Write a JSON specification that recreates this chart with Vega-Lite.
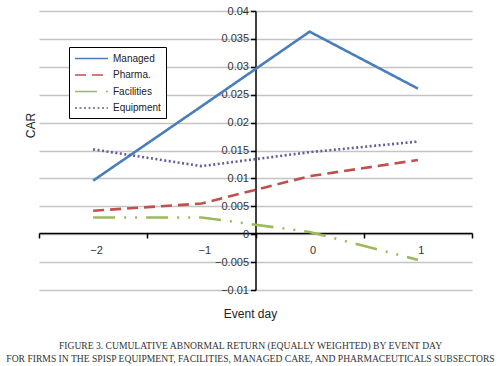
{
  "$schema": "https://vega.github.io/schema/vega-lite/v6.json",
  "autosize": {"type": "none"},
  "width": 433,
  "height": 279,
  "padding": {"left": 39, "top": 11, "right": 28, "bottom": 76},
  "background": "white",
  "title": {
    "text": ["FIGURE 3. CUMULATIVE ABNORMAL RETURN (EQUALLY WEIGHTED) BY EVENT DAY", "FOR FIRMS IN THE SPISP EQUIPMENT, FACILITIES, MANAGED CARE, AND PHARMACEUTICALS SUBSECTORS"],
    "orient": "bottom",
    "anchor": "middle",
    "font": "Liberation Serif",
    "fontSize": 9.6,
    "fontWeight": "normal",
    "color": "#333333",
    "lineHeight": 13,
    "offset": 22,
    "dx": -5
  },
  "data": {
    "values": [
      {"day": -2, "series": "Managed", "car": 0.0096},
      {"day": -1, "series": "Managed", "car": 0.0229},
      {"day": 0, "series": "Managed", "car": 0.0363},
      {"day": 1, "series": "Managed", "car": 0.0261},
      {"day": -2, "series": "Pharma.", "car": 0.0042},
      {"day": -1, "series": "Pharma.", "car": 0.0055},
      {"day": 0, "series": "Pharma.", "car": 0.0104},
      {"day": 1, "series": "Pharma.", "car": 0.0133},
      {"day": -2, "series": "Facilities", "car": 0.003},
      {"day": -1, "series": "Facilities", "car": 0.003},
      {"day": 0, "series": "Facilities", "car": 0.0004},
      {"day": 1, "series": "Facilities", "car": -0.0046},
      {"day": -2, "series": "Equipment", "car": 0.0152},
      {"day": -1, "series": "Equipment", "car": 0.0122},
      {"day": 0, "series": "Equipment", "car": 0.0147},
      {"day": 1, "series": "Equipment", "car": 0.0166}
    ]
  },
  "mark": {"type": "line", "strokeWidth": 2.6},
  "encoding": {
    "x": {
      "field": "day",
      "type": "quantitative",
      "scale": {"domain": [-2.5, 1.5], "nice": false, "zero": false},
      "axis": {
        "orient": "bottom",
        "offset": -57,
        "values": [-2.5, -1.5, -0.5, 0.5, 1.5],
        "labelExpr": "datum.value < 1 ? format(datum.value + 0.5, 'd') : ''",
        "labelOffset": 57,
        "labelFont": "Liberation Sans",
        "labelFontSize": 11,
        "labelColor": "#333333",
        "labelPadding": 6,
        "labelFlush": false,
        "labelOverlap": false,
        "domainColor": "#000000",
        "domainWidth": 1.5,
        "tickColor": "#000000",
        "tickWidth": 1.5,
        "tickSize": 5,
        "grid": false,
        "title": "Event day",
        "titleFont": "Liberation Sans",
        "titleFontSize": 12,
        "titleFontWeight": "normal",
        "titleColor": "#222222",
        "titleBaseline": "middle",
        "titleY": 80,
        "titleX": 211
      }
    },
    "y": {
      "field": "car",
      "type": "quantitative",
      "scale": {"domain": [-0.01, 0.04], "nice": false, "zero": false},
      "axis": {
        "orient": "left",
        "offset": -216.5,
        "values": [-0.01, -0.005, 0, 0.005, 0.01, 0.015, 0.02, 0.025, 0.03, 0.035, 0.04],
        "format": ".3~f",
        "labelFont": "Liberation Sans",
        "labelFontSize": 11,
        "labelColor": "#333333",
        "labelPadding": 2,
        "domainColor": "#000000",
        "domainWidth": 1.5,
        "tickColor": "#000000",
        "tickWidth": 1.5,
        "tickSize": 5,
        "grid": true,
        "gridColor": "#c4c4c4",
        "gridWidth": 1.5,
        "title": "CAR",
        "titleFont": "Liberation Sans",
        "titleFontSize": 12,
        "titleFontWeight": "normal",
        "titleColor": "#222222",
        "titleX": -225.5,
        "titleY": 114,
        "titleBaseline": "middle",
        "titleAngle": -90
      }
    },
    "color": {
      "field": "series",
      "type": "nominal",
      "scale": {
        "domain": ["Managed", "Pharma.", "Facilities", "Equipment"],
        "range": ["#4a7ebb", "#c0504d", "#9bbb59", "#6a5a9a"]
      },
      "legend": {
        "orient": "none",
        "legendX": 30,
        "legendY": 36,
        "title": null,
        "strokeColor": "#000000",
        "fillColor": "#ffffff",
        "padding": 5,
        "symbolType": "M-1,0H5",
        "symbolSize": 121,
        "symbolStrokeWidth": 1.6,
        "labelFont": "Liberation Sans",
        "labelFontSize": 10,
        "labelColor": "#222222",
        "labelOffset": 26,
        "rowPadding": 4.5
      }
    },
    "strokeDash": {
      "field": "series",
      "type": "nominal",
      "scale": {
        "domain": ["Managed", "Pharma.", "Facilities", "Equipment"],
        "range": [[1, 0], [11, 6], [22, 9, 2, 9, 2, 9], [2, 2.5]]
      },
      "legend": {
        "orient": "none",
        "legendX": 30,
        "legendY": 36,
        "title": null
      }
    }
  },
  "config": {"view": {"stroke": null}}
}
